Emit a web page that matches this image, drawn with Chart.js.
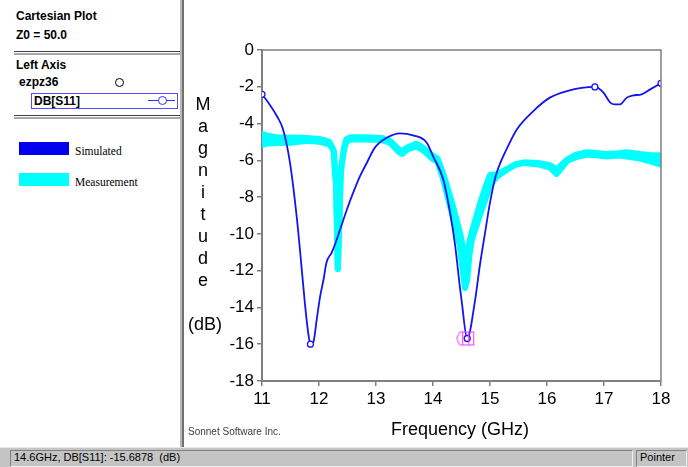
<!DOCTYPE html>
<html>
<head>
<meta charset="utf-8">
<script src="https://cdn.jsdelivr.net/npm/chart.js@4.4.1/dist/chart.umd.min.js"></script>
<style>
  body { margin: 0; width: 688px; height: 467px; overflow: hidden; background: #fff; position: relative;
         font-family: "Liberation Sans", Arial, sans-serif; }
  .abs { position: absolute; white-space: nowrap; }
  .bold { font-weight: bold; font-size: 12px; color: #000; line-height: 14px; }
  .serif { font-family: "Liberation Serif", "Times New Roman", serif; font-size: 11.5px; color: #000; line-height: 14px; }
  #chartBox { position: absolute; left: 185px; top: 0; width: 503px; height: 447px; }
</style>
</head>
<body>
<!-- left panel -->
<div class="abs bold" style="left:16px; top:9px;">Cartesian Plot</div>
<div class="abs bold" style="left:16px; top:28px;">Z0 = 50.0</div>
<div class="abs" style="left:14px; top:51px; width:166px; height:1px; background:#404040;"></div>
<div class="abs" style="left:14px; top:53px; width:166px; height:2px; background:#a8a8a8;"></div>
<div class="abs bold" style="left:16px; top:58px;">Left Axis</div>
<div class="abs bold" style="left:19px; top:75px;">ezpz36</div>
<div class="abs" style="left:115px; top:78px; width:7px; height:7px; border:1px solid #000; border-radius:50%;"></div>
<div class="abs" style="left:31px; top:93px; width:145px; height:14px; border:1px solid #5050ff;"></div>
<div class="abs bold" style="left:34px; top:94px;">DB[S11]</div>
<div class="abs" style="left:148px; top:100px; width:27px; height:1px; background:#3030ff;"></div>
<div class="abs" style="left:158px; top:96px; width:7px; height:7px; border:1px solid #3030ff; border-radius:50%; background:#fff;"></div>
<div class="abs" style="left:14px; top:115px; width:166px; height:1px; background:#404040;"></div>
<div class="abs" style="left:14px; top:117px; width:166px; height:2px; background:#a8a8a8;"></div>
<div class="abs" style="left:19px; top:142px; width:50px; height:13px; background:#0000ee;"></div>
<div class="abs serif" style="left:75px; top:144px;">Simulated</div>
<div class="abs" style="left:19px; top:173px; width:50px; height:13px; background:#00ffff;"></div>
<div class="abs serif" style="left:75px; top:175px;">Measurement</div>
<div class="abs" style="left:180px; top:0; width:2px; height:447px; background:#b8b8b8;"></div>
<div class="abs" style="left:182px; top:0; width:2px; height:447px; background:#707070;"></div>

<!-- plot -->
<div id="chartBox"><canvas id="plot"></canvas></div>
<div class="abs" style="left:188px; top:93px; width:30px; text-align:center; font-size:18px; line-height:22px; color:#000;">M<br>a<br>g<br>n<br>i<br>t<br>u<br>d<br>e<br><br>(dB)</div>
<div class="abs" style="left:391px; top:419px; font-size:18px; color:#000;">Frequency (GHz)</div>
<div class="abs" style="left:188px; top:426px; font-size:10px; color:#404040;">Sonnet Software Inc.</div>

<!-- status bar -->
<div class="abs" style="left:0; top:447px; width:688px; height:20px; background:#c4c4c4; border-top:1px solid #e8e8e8;"></div>
<div class="abs" style="left:10px; top:450px; width:621px; height:15px; border-top:1px solid #808080; border-left:1px solid #808080; border-bottom:1px solid #f0f0f0; border-right:1px solid #f0f0f0;"></div>
<div class="abs" style="left:14px; top:451px; font-size:11px; color:#000;">14.6GHz, DB[S11]: -15.6878&nbsp; (dB)</div>
<div class="abs" style="left:636px; top:450px; width:49px; height:15px; border-top:1px solid #808080; border-left:1px solid #808080; border-bottom:1px solid #f0f0f0; border-right:1px solid #f0f0f0;"></div>
<div class="abs" style="left:640px; top:451px; font-size:11px; color:#000;">Pointer</div>

<script>
// simulated S11 (dB)
const simFreq = [11.00, 11.09, 11.26, 11.37, 11.49, 11.61, 11.67, 11.75, 11.81, 11.85, 11.90, 11.96, 12.02, 12.08, 12.13, 12.22, 12.28, 12.37, 12.49, 12.60, 12.72, 12.84, 12.98, 13.19, 13.42, 13.65, 13.89, 14.00, 14.18, 14.30, 14.39, 14.47, 14.50, 14.60, 14.74, 14.82, 14.91, 15.00, 15.10, 15.20, 15.29, 15.47, 15.76, 16.05, 16.35, 16.84, 16.99, 17.11, 17.19, 17.28, 17.40, 17.51, 17.66, 17.81, 18.00];
const simDb = [-2.41, -2.77, -3.59, -4.32, -6.11, -9.10, -11.0, -13.7, -15.37, -16.0, -15.9, -14.66, -13.4, -12.48, -11.57, -11.03, -10.58, -9.76, -8.67, -7.76, -6.86, -6.13, -5.31, -4.77, -4.53, -4.64, -5.04, -5.77, -7.04, -8.85, -10.67, -12.85, -13.57, -15.69, -13.57, -11.76, -10.0, -8.3, -6.85, -6.0, -5.4, -4.32, -3.32, -2.59, -2.23, -2.01, -2.32, -2.86, -2.96, -2.96, -2.59, -2.47, -2.41, -2.14, -1.81];
const simMarkers = [11.00, 11.85, 14.60, 16.84, 18.00];

// measured S11, upper and lower edge of the noisy trace
const measFreq = [11.00, 11.10, 11.25, 11.50, 11.80, 12.00, 12.10, 12.18, 12.23, 12.26, 12.28, 12.30, 12.33, 12.36, 12.38, 12.40, 12.44, 12.48, 12.55, 12.80, 13.10, 13.25, 13.40, 13.46, 13.55, 13.70, 13.80, 13.88, 14.00, 14.08, 14.19, 14.34, 14.47, 14.52, 14.56, 14.60, 14.64, 14.68, 14.82, 14.93, 15.00, 15.12, 15.30, 15.45, 15.60, 15.88, 16.05, 16.17, 16.25, 16.35, 16.50, 16.70, 16.90, 17.05, 17.25, 17.40, 17.63, 17.80, 18.00];
const measHi = [-4.57, -4.66, -4.74, -4.76, -4.78, -4.84, -4.91, -5.0, -5.26, -5.5, -6.5, -7.3, -11.9, -9.0, -6.8, -6.2, -5.3, -4.85, -4.75, -4.74, -4.78, -4.95, -5.4, -5.5, -5.3, -5.1, -5.25, -5.45, -5.75, -5.9, -6.83, -8.37, -9.9, -10.6, -11.6, -11.2, -10.4, -9.92, -8.4, -7.37, -6.8, -6.76, -6.46, -6.21, -6.11, -6.16, -6.26, -6.51, -6.26, -5.96, -5.71, -5.56, -5.61, -5.66, -5.61, -5.56, -5.66, -5.71, -5.74];
const measLo = [-5.15, -5.09, -5.06, -5.04, -4.94, -4.99, -5.06, -5.14, -5.34, -5.55, -6.8, -7.3, -11.9, -9.0, -6.8, -6.2, -5.4, -5.0, -4.87, -4.87, -4.9, -5.05, -5.55, -5.65, -5.4, -5.25, -5.4, -5.6, -5.95, -6.05, -7.15, -8.99, -10.65, -11.94, -12.95, -12.5, -11.14, -10.34, -9.02, -8.02, -7.37, -6.89, -6.5, -6.24, -6.14, -6.24, -6.39, -6.74, -6.44, -6.04, -5.84, -5.69, -5.74, -5.79, -5.74, -5.79, -5.9, -6.04, -6.24];

// cursor readout
const cursorFreq = [14.6];
const cursorDb = [-15.6878];

const xTicks = [11, 12, 13, 14, 15, 16, 17, 18];
const yTicks = [0, -2, -4, -6, -8, -10, -12, -14, -16, -18];

const pts = (xs, ys) => xs.map((x, i) => ({ x: x, y: ys[i] }));

// magenta pointer glyph
function cursorGlyph() {
  const c = document.createElement('canvas');
  c.width = 26; c.height = 16;
  const g = c.getContext('2d');
  g.strokeStyle = '#ff30ff';
  g.lineWidth = 1;
  g.strokeRect(8.5, 1.5, 11, 13);
  g.beginPath();
  g.moveTo(2.5, 8); g.lineTo(5.5, 1.5); g.lineTo(14.5, 1.5);
  g.moveTo(2.5, 8); g.lineTo(5.5, 14.5); g.lineTo(14.5, 14.5);
  g.moveTo(14.5, 1.5); g.lineTo(14.5, 14.5);
  g.stroke();
  return c;
}

const framePlugin = {
  id: 'frame',
  afterDraw(chart) {
    const a = chart.chartArea, ctx = chart.ctx;
    ctx.save();
    ctx.strokeStyle = '#808080';
    ctx.lineWidth = 1.5;
    ctx.beginPath();
    ctx.moveTo(a.left, a.top); ctx.lineTo(a.right, a.top); ctx.lineTo(a.right, a.bottom);
    ctx.stroke();
    ctx.restore();
  }
};

const tickFont = { family: '"Liberation Sans", Arial, sans-serif', size: 17 };

new Chart(document.getElementById('plot'), {
  type: 'line',
  data: {
    datasets: [
      {
        label: 'Simulated',
        data: pts(simFreq, simDb),
        borderColor: '#1414f0',
        borderWidth: 1.8,
        cubicInterpolationMode: 'monotone',
        pointRadius: ctx => simMarkers.includes(simFreq[ctx.dataIndex]) ? 3 : 0,
        pointBackgroundColor: '#fff',
        pointBorderColor: '#1414f0',
        pointBorderWidth: 1.3,
        order: 1
      },
      {
        label: 'Measurement',
        data: pts(measFreq, measHi),
        borderColor: '#00ffff',
        borderWidth: 6,
        borderJoinStyle: 'round',
        borderCapStyle: 'round',
        pointRadius: 0,
        fill: false,
        order: 3
      },
      {
        label: 'Measurement lo',
        data: pts(measFreq, measLo),
        borderColor: '#00ffff',
        backgroundColor: '#00ffff',
        borderWidth: 6,
        borderJoinStyle: 'round',
        borderCapStyle: 'round',
        pointRadius: 0,
        fill: '-1',
        order: 3
      },
      {
        label: 'Cursor',
        data: pts(cursorFreq, cursorDb),
        showLine: false,
        pointStyle: cursorGlyph(),
        pointRadius: 8,
        order: 0
      }
    ]
  },
  options: {
    responsive: true,
    maintainAspectRatio: false,
    animation: false,
    layout: { padding: { left: 0, top: 50, right: 27, bottom: 36 } },
    plugins: { legend: { display: false }, tooltip: { enabled: false } },
    scales: {
      x: {
        type: 'linear',
        min: 11, max: 18,
        afterBuildTicks: s => { s.ticks = xTicks.map(v => ({ value: v })); },
        afterFit: s => { s.height = 30; },
        ticks: { color: '#000', font: tickFont, padding: 3, maxRotation: 0 },
        grid: { drawOnChartArea: false, drawTicks: true, tickLength: 5, color: '#808080', lineWidth: 1.5 },
        border: { color: '#808080', width: 2 }
      },
      y: {
        type: 'linear',
        min: -18, max: 0,
        afterBuildTicks: s => { s.ticks = yTicks.map(v => ({ value: v })); },
        afterFit: s => { s.width = 77; },
        ticks: { color: '#000', font: tickFont, padding: 3 },
        grid: { drawOnChartArea: false, drawTicks: true, tickLength: 5, color: '#808080', lineWidth: 1.5 },
        border: { color: '#808080', width: 2 }
      }
    }
  },
  plugins: [framePlugin]
});
</script>
</body>
</html>
